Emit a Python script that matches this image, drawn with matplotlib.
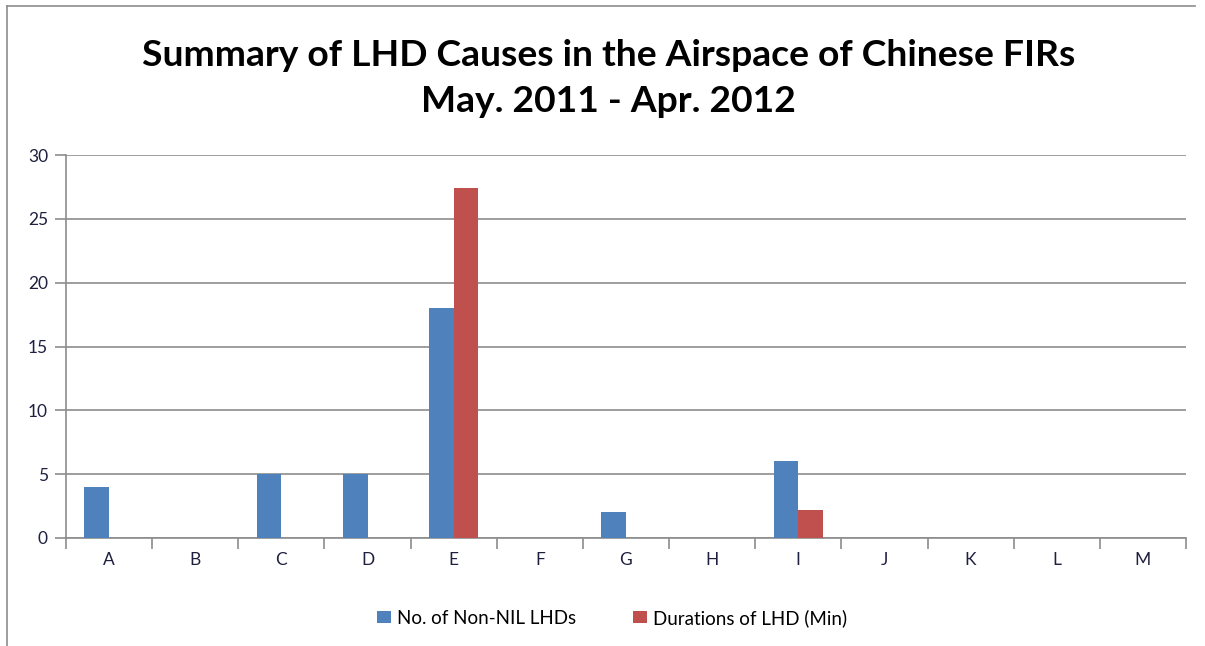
import numpy as np
import matplotlib.pyplot as plt
from matplotlib.lines import Line2D

categories = ['A', 'B', 'C', 'D', 'E', 'F', 'G', 'H', 'I', 'J', 'K', 'L', 'M']
non_nil_lhds = [4, 0, 5, 5, 18, 0, 2, 0, 6, 0, 0, 0, 0]
durations = [0, 0, 0, 0, 27.4, 0, 0, 0, 2.2, 0, 0, 0, 0]

plt.rcParams['font.family'] = ['Lato', 'DejaVu Sans']

fig = plt.figure(figsize=(12.05, 6.46), dpi=100)
ax = fig.add_axes([66 / 1205, 1 - 538 / 646, (1186 - 66) / 1205, (538 - 155) / 646])

x = np.arange(len(categories))
w = 1 / 3.5
ax.bar(x - w / 2, non_nil_lhds, w, color='#4F81BD', label='No. of Non-NIL LHDs', zorder=3)
ax.bar(x + w / 2, durations, w, color='#C0504D', label='Durations of LHD (Min)', zorder=3)

ax.set_xlim(-0.5, len(categories) - 0.5)
ax.set_ylim(0, 30)
ax.set_yticks(range(0, 31, 5))
ax.set_xticks(x)
ax.set_xticklabels(categories)
ax.set_xticks(np.arange(-0.5, len(categories), 1), minor=True)
ax.yaxis.grid(True, color='#8C8C8C', linewidth=1.2, zorder=0)
for s in ['top', 'right']:
    ax.spines[s].set_visible(False)
ax.spines['left'].set_color('#8C8C8C')
ax.spines['bottom'].set_color('#8C8C8C')
ax.spines['left'].set_linewidth(1.2)
ax.spines['bottom'].set_linewidth(1.2)
ax.tick_params(axis='x', which='major', length=0, pad=10, labelsize=12.5, labelcolor='#1F1F3F')
ax.tick_params(axis='x', which='minor', length=8, color='#8C8C8C', width=1.2)
ax.tick_params(axis='y', length=8, color='#8C8C8C', width=1.2, pad=5, labelsize=12.5, labelcolor='#1F1F3F')

fig.text(0.505, 1 - 55 / 646, 'Summary of LHD Causes in the Airspace of Chinese FIRs',
         ha='center', va='center', fontsize=26.8, fontweight='bold')
fig.text(0.505, 1 - 102 / 646, 'May. 2011 - Apr. 2012',
         ha='center', va='center', fontsize=26.8, fontweight='bold')

fig.legend(loc='center', bbox_to_anchor=(612 / 1205, 1 - 618 / 646), ncol=2, frameon=False,
           fontsize=13.5, handlelength=0.75, handleheight=0.6, columnspacing=3.0, handletextpad=0.35)

# chart border (top and left visible)
fig.add_artist(Line2D([7 / 1205, 7 / 1205], [0, 1 - 6 / 646], color='#8C8C8C', linewidth=1.2))
fig.add_artist(Line2D([7 / 1205, 1195 / 1205], [1 - 6 / 646, 1 - 6 / 646], color='#8C8C8C', linewidth=1.2))

fig.savefig('out.png', dpi=100)
